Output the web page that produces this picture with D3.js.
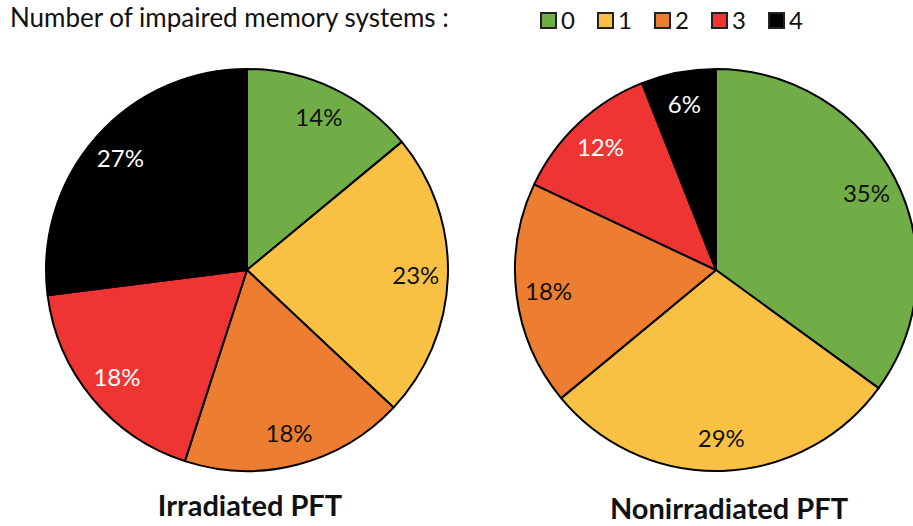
<!DOCTYPE html>
<html>
<head>
<meta charset="utf-8">
<script src="https://cdn.jsdelivr.net/npm/d3@7"></script>
<style>
  body { margin: 0; background: #fff; }
  svg { display: block; font-family: Lato, "Open Sans", sans-serif; }
</style>
</head>
<body>
<div id="chart"></div>
<script>
const categories = ["0", "1", "2", "3", "4"];
const colors = ["#70ad47", "#f8c144", "#ed7d31", "#ee3534", "#000000"];
const labelColors = ["#111", "#111", "#111", "#fff", "#fff"];
const irradiated = [14, 23, 18, 18, 27];
const nonirradiated = [35, 29, 18, 12, 6];
const titles = ["Irradiated PFT", "Nonirradiated PFT"];

const width = 913, height = 526;
const radius = 201;

const svg = d3.select("#chart").append("svg")
  .attr("width", width)
  .attr("height", height);

svg.append("text")
  .attr("x", 10)
  .attr("y", 27)
  .attr("font-size", 26)
  .attr("fill", "#111")
  .text("Number of impaired memory systems :");

// legend
const legend = svg.append("g").attr("transform", "translate(540, 12)");
const item = legend.selectAll("g")
  .data(categories)
  .enter().append("g")
  .attr("transform", (d, i) => `translate(${i * 57}, 0)`);
item.append("rect")
  .attr("x", 1).attr("y", 1)
  .attr("width", 15).attr("height", 15)
  .attr("fill", (d, i) => colors[i])
  .attr("stroke", "#222")
  .attr("stroke-width", 2);
item.append("text")
  .attr("x", 21)
  .attr("y", 17)
  .attr("font-size", 24)
  .attr("fill", "#111")
  .text(d => d);

const pie = d3.pie().sort(null).value(d => d);
const arc = d3.arc().innerRadius(0).outerRadius(radius);
const labelArc = d3.arc().innerRadius(radius * 0.84).outerRadius(radius * 0.84);

const drawPie = (values, cx, cy, title, tx, ty) => {
  const g = svg.append("g").attr("transform", `translate(${cx}, ${cy})`);
  const arcs = pie(values);

  g.selectAll("path")
    .data(arcs)
    .enter().append("path")
    .attr("d", arc)
    .attr("fill", (d, i) => colors[i])
    .attr("stroke", "#000")
    .attr("stroke-width", 2)
    .attr("stroke-linejoin", "round");

  g.selectAll(".lbl")
    .data(arcs)
    .enter().append("text")
    .attr("class", "lbl")
    .attr("transform", d => `translate(${labelArc.centroid(d)})`)
    .attr("text-anchor", "middle")
    .attr("dy", "0.36em")
    .attr("font-size", 24)
    .attr("fill", (d, i) => labelColors[i])
    .text(d => d.data + "%");

  svg.append("text")
    .attr("x", tx)
    .attr("y", ty)
    .attr("text-anchor", "middle")
    .attr("font-size", 29)
    .attr("font-weight", "bold")
    .attr("fill", "#111")
    .text(title);
};

drawPie(irradiated, 247, 270, titles[0], 250, 516);
drawPie(nonirradiated, 716, 270, titles[1], 729, 519);
</script>
</body>
</html>
